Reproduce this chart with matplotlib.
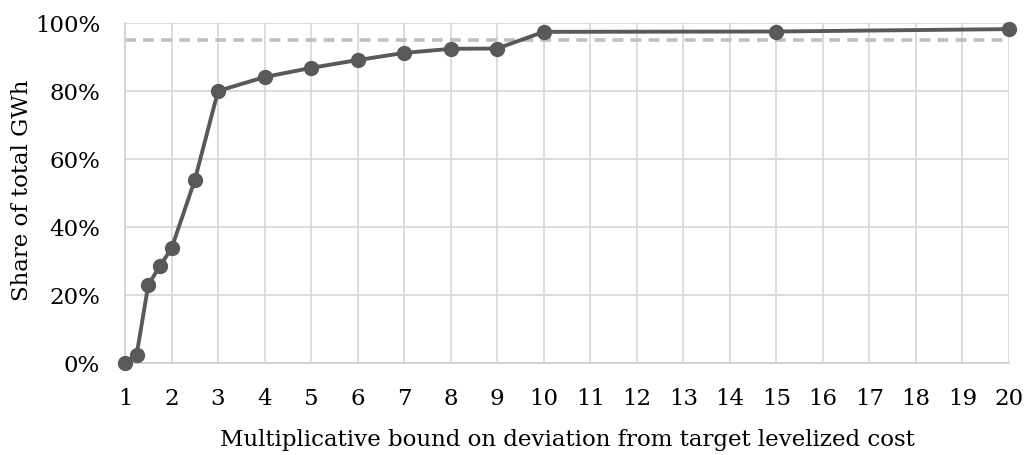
import matplotlib
matplotlib.use("Agg")
import matplotlib.pyplot as plt
from matplotlib.ticker import FuncFormatter

x_vals = [1, 1.25, 1.5, 1.75, 2, 2.5, 3, 4, 5, 6, 7, 8, 9, 10, 15, 20]
share = [0.0, 0.024, 0.23, 0.285, 0.337, 0.538, 0.80, 0.841, 0.868, 0.891, 0.912, 0.924, 0.925, 0.974, 0.975, 0.982]
threshold = 0.95
x_ticks = list(range(1, 21))
y_ticks = [0, 0.2, 0.4, 0.6, 0.8, 1.0]

plt.rcParams['font.family'] = ['DejaVu Serif']

fs = 16.5
fig = plt.figure(figsize=(10.25, 4.55), dpi=100)
ax = fig.add_axes([125/1025, 1-363/455, (1009-125)/1025, (363-23)/455])

ax.set_xlim(1, 20)
ax.set_ylim(0, 1)
ax.set_xticks(x_ticks)
ax.set_yticks(y_ticks)
ax.yaxis.set_major_formatter(FuncFormatter(lambda v, p: f"{v*100:.0f}%"))
ax.grid(True, color='#D9D9D9', linewidth=1.3)
ax.set_axisbelow(True)
for s in ['top', 'right']:
    ax.spines[s].set_visible(False)
for s in ['left', 'bottom']:
    ax.spines[s].set_color('#D0D0D0')
    ax.spines[s].set_linewidth(1.3)
ax.tick_params(length=0, labelsize=fs, colors='black')
ax.tick_params(axis='x', pad=18)
ax.tick_params(axis='y', pad=18)

ax.axhline(threshold, color='#BFBFBF', linewidth=2.6, linestyle=(0, (3, 2)), zorder=2)
ax.plot(x_vals, share, color='#595959', linewidth=2.8, marker='o', markersize=10,
        clip_on=False, zorder=3)

ax.set_xlabel("Multiplicative bound on deviation from target levelized cost", fontsize=fs, labelpad=14)
ax.set_ylabel("Share of total GWh", fontsize=fs, ha='center', va='center')
ax.yaxis.set_label_coords((22 - 125) / 884, (363 - 190) / 340)

fig.savefig("out.png", dpi=100)
